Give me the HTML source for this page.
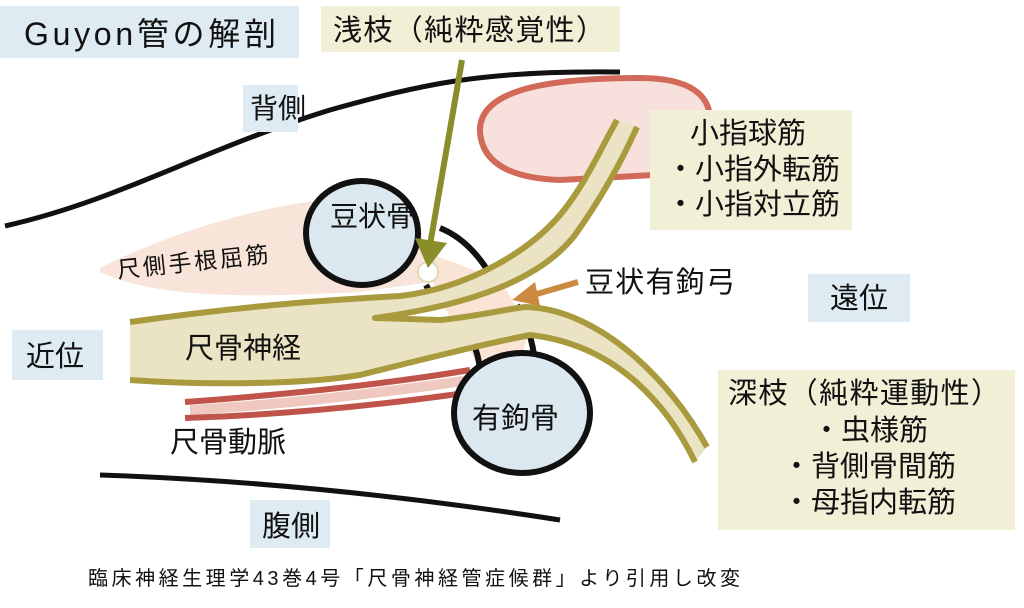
<!DOCTYPE html>
<html><head><meta charset="utf-8"><style>
html,body{margin:0;padding:0;background:#fff;width:1024px;height:608px;overflow:hidden}
svg{display:block}
text{font-family:"Liberation Sans","Noto Sans CJK JP",sans-serif;fill:#111}
</style></head><body>
<svg width="1024" height="608" viewBox="0 0 1024 608" xmlns="http://www.w3.org/2000/svg">
<!-- top black curve -->
<path d="M5,226 C120,200 200,150 330,110 C420,85 480,70 620,72" fill="none" stroke="#111" stroke-width="5"/>
<!-- red muscle blob -->
<path d="M480,132 C478,92 540,78 640,78 C690,78 710,95 710,120 L710,172 L560,180 C505,178 482,160 480,132Z" fill="#f8e0dc" stroke="#d26a5a" stroke-width="6"/>
<!-- FCU pinkish -->
<path d="M100,268 C180,228 260,208 320,200 L420,222 L430,282 L360,292 C260,297 160,300 100,272Z" fill="#f9e4da"/>
<text x="118" y="278" font-size="23" transform="rotate(-6 118 278)" textLength="152">尺側手根屈筋</text>
<!-- canal pinkish fill -->
<path d="M420,250 L500,280 L530,330 L520,360 L475,360 L440,300Z" fill="#f9e4d6"/>
<!-- ligament lines -->
<path d="M440,228 C470,240 490,270 497,290" fill="none" stroke="#111" stroke-width="6"/>
<path d="M426,285 L437,305" stroke="#111" stroke-width="6"/>
<path d="M455,318 C470,330 478,350 480,370" fill="none" stroke="#111" stroke-width="6"/>
<path d="M517,305 C530,330 535,350 535,370" fill="none" stroke="#111" stroke-width="6"/>
<path d="M470,320 L520,314 M478,340 L528,335" stroke="#c6a04a" stroke-width="4" stroke-dasharray="10 6"/>
<!-- pisiform -->
<ellipse cx="362" cy="233" rx="56" ry="52" fill="#dce8ef" stroke="#111" stroke-width="6"/>
<text x="330" y="226" font-size="28">豆状骨</text>
<!-- nerve fill -->
<path d="M130,322 C250,305 330,300 400,296 C470,288 530,250 560,215 C585,185 600,150 617,120 L637,127 C620,165 600,200 575,235 C540,280 470,305 375,318 L440,320 C480,316 510,308 527,307 C600,310 670,380 707,447 L695,462 C670,410 620,345 530,335 C480,345 420,360 360,375 C300,385 200,385 130,380Z" fill="#ebe4c4"/>
<path d="M130,322 C250,305 330,300 400,296 C470,288 530,250 560,215 C585,185 600,150 617,120" fill="none" stroke="#aa9a3e" stroke-width="6"/>
<path d="M637,127 C620,165 600,200 575,235 C540,280 470,305 375,318 L440,320 C480,316 510,308 527,307 C600,310 670,380 707,447" fill="none" stroke="#aa9a3e" stroke-width="6" stroke-linejoin="round"/>
<path d="M695,462 C670,410 620,345 530,335 C480,345 420,360 360,375 C300,385 200,385 130,380" fill="none" stroke="#aa9a3e" stroke-width="6"/>
<text x="185" y="358" font-size="29">尺骨神経</text>
<!-- artery -->
<path d="M190,410 C280,405 380,393 470,380" fill="none" stroke="#efc8c0" stroke-width="10"/>
<path d="M185,402 C280,395 380,385 470,370" fill="none" stroke="#c0544a" stroke-width="6"/>
<path d="M185,418 C280,415 380,405 465,393" fill="none" stroke="#c0544a" stroke-width="6"/>
<text x="170" y="452" font-size="29">尺骨動脈</text>
<!-- hamate -->
<ellipse cx="522" cy="413" rx="68" ry="60" fill="#dce8ef" stroke="#111" stroke-width="6"/>
<text x="472" y="428" font-size="29">有鉤骨</text>
<!-- bottom black curve -->
<path d="M100,475 C250,480 400,495 560,520" fill="none" stroke="#111" stroke-width="5"/>
<!-- hole -->
<circle cx="428" cy="272" r="10" fill="#fff" stroke="#e0d8b0" stroke-width="2"/>
<!-- green arrow -->
<line x1="462" y1="60" x2="430" y2="245" stroke="#8a8e2a" stroke-width="6"/>
<polygon points="415,238 447,243 428,268" fill="#8a8e2a"/>
<!-- orange arrow -->
<line x1="578" y1="282" x2="530" y2="296" stroke="#cc8a40" stroke-width="6"/>
<polygon points="512,300 535,282 540,306" fill="#cc8a40"/>
<text x="585" y="292" font-size="29" textLength="150">豆状有鉤弓</text>

<!-- boxes -->
<rect x="0" y="6" width="299" height="52" fill="#deebf2"/>
<text x="24" y="45" font-size="32" textLength="252">Guyon管の解剖</text>
<rect x="321" y="6" width="299" height="46" fill="#f1f0d6"/>
<text x="333" y="40" font-size="29" textLength="272">浅枝（純粋感覚性）</text>
<rect x="243" y="85" width="55" height="47" fill="#deebf2"/>
<text x="250" y="118" font-size="28">背側</text>
<rect x="650" y="110" width="202" height="120" fill="#f1f0d6"/>
<text x="690" y="143" font-size="29">小指球筋</text>
<text x="666" y="179" font-size="29">・小指外転筋</text>
<text x="666" y="214" font-size="29">・小指対立筋</text>
<rect x="808" y="274" width="102" height="48" fill="#deebf2"/>
<text x="830" y="308" font-size="29">遠位</text>
<rect x="12" y="330" width="91" height="50" fill="#deebf2"/>
<text x="26" y="366" font-size="29">近位</text>
<rect x="718" y="370" width="297" height="160" fill="#f1f0d6"/>
<text x="728" y="403" font-size="29" textLength="272">深枝（純粋運動性）</text>
<text x="812" y="440" font-size="29">・虫様筋</text>
<text x="782" y="476" font-size="29">・背側骨間筋</text>
<text x="782" y="512" font-size="29">・母指内転筋</text>
<rect x="250" y="500" width="80" height="48" fill="#deebf2"/>
<text x="262" y="536" font-size="29">腹側</text>

<text x="88" y="585" font-size="20" textLength="652">臨床神経生理学43巻4号「尺骨神経管症候群」より引用し改変</text>
</svg>
</body></html>
